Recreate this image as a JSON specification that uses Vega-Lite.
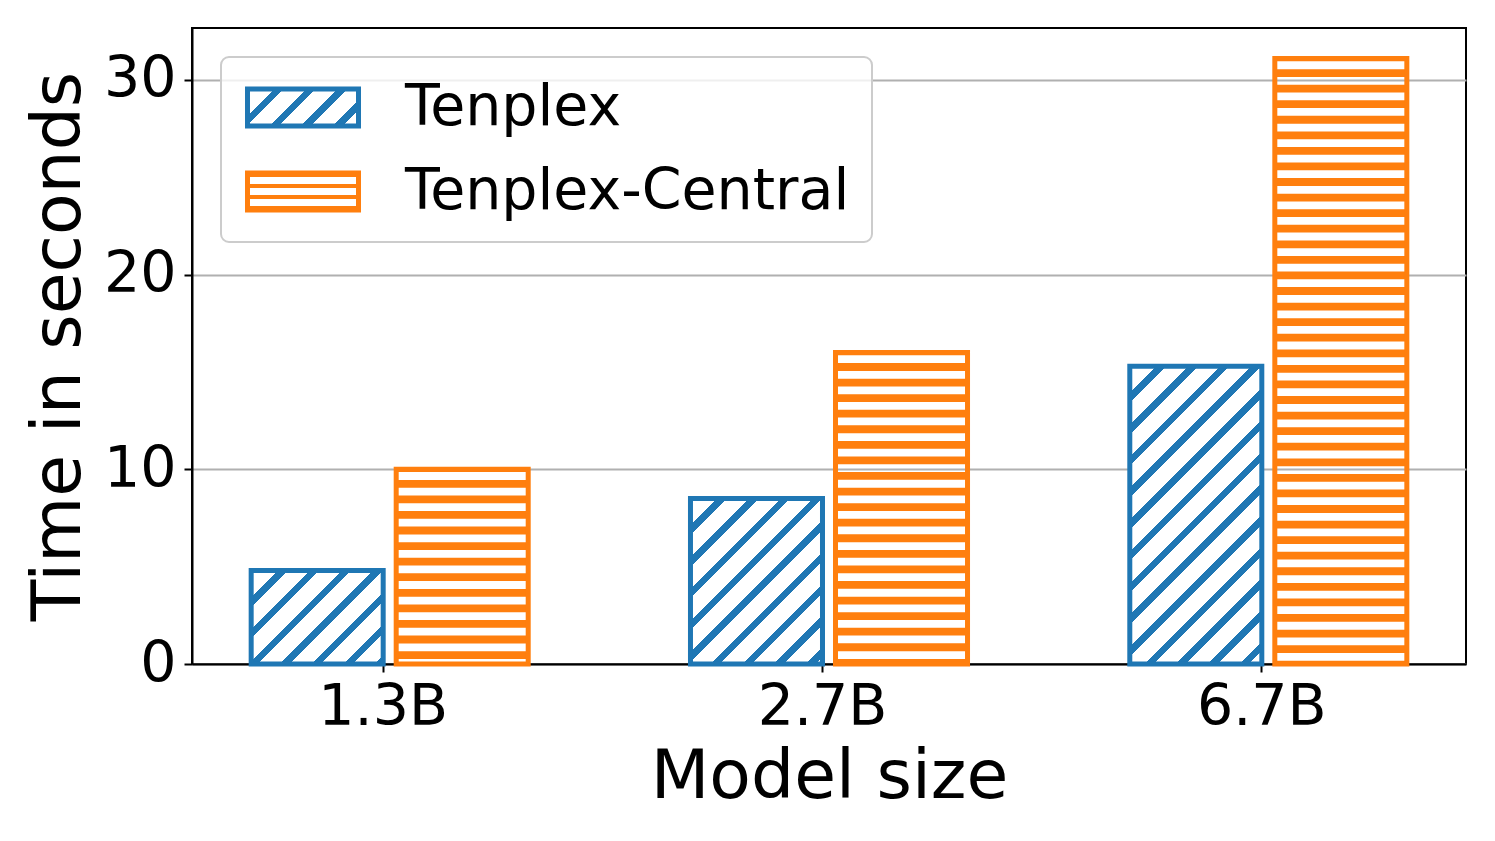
{
  "$schema": "https://vega.github.io/schema/vega-lite/v6.json",
  "width": 1274,
  "height": 636,
  "autosize": {"type": "none"},
  "padding": {"left": 192, "top": 28, "right": 29, "bottom": 177},
  "config": {
    "font": "DejaVu Sans",
    "view": {"stroke": "black", "strokeWidth": 2},
    "legend": {"strokeWidth": 2}
  },
  "data": {
    "values": [
      {"model": "1.3B", "series": "Tenplex", "value": 4.8},
      {"model": "1.3B", "series": "Tenplex-Central", "value": 10.0},
      {"model": "2.7B", "series": "Tenplex", "value": 8.5},
      {"model": "2.7B", "series": "Tenplex-Central", "value": 16.0},
      {"model": "6.7B", "series": "Tenplex", "value": 15.3},
      {"model": "6.7B", "series": "Tenplex-Central", "value": 31.1}
    ]
  },
  "encoding": {
    "x": {
      "field": "model",
      "type": "nominal",
      "sort": ["1.3B", "2.7B", "6.7B"],
      "scale": {"paddingInner": 0.1, "paddingOuter": 0},
      "axis": {
        "title": "Model size",
        "labelAngle": 0,
        "labelFontSize": 57,
        "labelColor": "black",
        "labelPadding": 7,
        "tickOffset": -7,
        "titleFontSize": 68,
        "titleFontWeight": "normal",
        "titleColor": "black",
        "titlePadding": 8,
        "tickSize": 8,
        "tickWidth": 2,
        "tickColor": "black",
        "domainColor": "black",
        "domainWidth": 2,
        "grid": false
      }
    },
    "xOffset": {
      "field": "series",
      "type": "nominal",
      "scale": {"domain": ["Tenplex", "Tenplex-Central"], "paddingInner": 0.0897, "paddingOuter": 0.408}
    }
  },
  "layer": [
    {
      "transform": [{"filter": "datum.series === 'Tenplex-Central'"}],
      "mark": {"type": "rule", "stroke": "#ff7f0e", "strokeWidth": 132, "strokeDash": [7.785, 7.785], "strokeDashOffset": 5, "strokeCap": "butt"},
      "encoding": {
        "y": {"field": "value", "type": "quantitative", "scale": {"domain": [0, 32.67], "nice": false}},
        "y2": {"datum": 0}
      }
    },
    {
      "mark": {"type": "bar", "strokeWidth": 5},
      "encoding": {
        "y": {
          "field": "value",
          "type": "quantitative",
          "scale": {"domain": [0, 32.67], "nice": false},
          "axis": {
            "title": "Time in seconds",
            "values": [0, 10, 20, 30],
            "labelFontSize": 57,
            "labelColor": "black",
            "labelPadding": 8,
            "titleFontSize": 68,
            "titleFontWeight": "normal",
            "titleColor": "black",
            "titlePadding": 10,
            "tickSize": 8,
            "tickWidth": 2,
            "tickColor": "black",
            "domainColor": "black",
            "domainWidth": 2,
            "grid": true,
            "gridColor": "#b0b0b0",
            "gridWidth": 2
          }
        },
        "stroke": {
          "field": "series",
          "type": "nominal",
          "scale": {"domain": ["Tenplex", "Tenplex-Central"], "range": ["#1f77b4", "#ff7f0e"]},
          "legend": {
            "title": null,
            "orient": "top-left",
            "offset": 29,
            "padding": 22,
            "symbolType": "M-1,-0.7708H3.625V0.7708H-1Z",
            "symbolSize": 2304,
            "symbolStrokeWidth": 5,
            "labelFontSize": 57,
            "labelColor": "black",
            "labelOffset": 105,
            "labelLimit": 0,
            "rowPadding": 26,
            "strokeColor": "#cccccc",
            "fillColor": "rgba(255,255,255,0.8)",
            "cornerRadius": 8
          }
        },
        "fill": {
          "value": {
            "expr": "datum.series === 'Tenplex' ? (datum.model === '1.3B' ? {gradient:'linear',x1:0,y1:0,x2:1.1378,y2:0.8054,stops:[{offset:0,color:'#1f77b4'},{offset:0.0211,color:'#1f77b4'},{offset:0.0211,color:'#fff'},{offset:0.1195,color:'#fff'},{offset:0.1195,color:'#1f77b4'},{offset:0.1617,color:'#1f77b4'},{offset:0.1617,color:'#fff'},{offset:0.2602,color:'#fff'},{offset:0.2602,color:'#1f77b4'},{offset:0.3023,color:'#1f77b4'},{offset:0.3023,color:'#fff'},{offset:0.4008,color:'#fff'},{offset:0.4008,color:'#1f77b4'},{offset:0.4429,color:'#1f77b4'},{offset:0.4429,color:'#fff'},{offset:0.5414,color:'#fff'},{offset:0.5414,color:'#1f77b4'},{offset:0.5835,color:'#1f77b4'},{offset:0.5835,color:'#fff'},{offset:0.682,color:'#fff'},{offset:0.682,color:'#1f77b4'},{offset:0.7241,color:'#1f77b4'},{offset:0.7241,color:'#fff'},{offset:0.8226,color:'#fff'},{offset:0.8226,color:'#1f77b4'},{offset:0.8648,color:'#1f77b4'},{offset:0.8648,color:'#fff'},{offset:0.9632,color:'#fff'},{offset:0.9632,color:'#1f77b4'},{offset:1,color:'#1f77b4'}]} : datum.model === '2.7B' ? {gradient:'linear',x1:0,y1:0,x2:0.8764,y2:1.0986,stops:[{offset:0,color:'#1f77b4'},{offset:0.016,color:'#1f77b4'},{offset:0.016,color:'#fff'},{offset:0.0906,color:'#fff'},{offset:0.0906,color:'#1f77b4'},{offset:0.1225,color:'#1f77b4'},{offset:0.1225,color:'#fff'},{offset:0.1972,color:'#fff'},{offset:0.1972,color:'#1f77b4'},{offset:0.2291,color:'#1f77b4'},{offset:0.2291,color:'#fff'},{offset:0.3037,color:'#fff'},{offset:0.3037,color:'#1f77b4'},{offset:0.3357,color:'#1f77b4'},{offset:0.3357,color:'#fff'},{offset:0.4103,color:'#fff'},{offset:0.4103,color:'#1f77b4'},{offset:0.4422,color:'#1f77b4'},{offset:0.4422,color:'#fff'},{offset:0.5169,color:'#fff'},{offset:0.5169,color:'#1f77b4'},{offset:0.5488,color:'#1f77b4'},{offset:0.5488,color:'#fff'},{offset:0.6234,color:'#fff'},{offset:0.6234,color:'#1f77b4'},{offset:0.6554,color:'#1f77b4'},{offset:0.6554,color:'#fff'},{offset:0.73,color:'#fff'},{offset:0.73,color:'#1f77b4'},{offset:0.7619,color:'#1f77b4'},{offset:0.7619,color:'#fff'},{offset:0.8366,color:'#fff'},{offset:0.8366,color:'#1f77b4'},{offset:0.8685,color:'#1f77b4'},{offset:0.8685,color:'#fff'},{offset:0.9431,color:'#fff'},{offset:0.9431,color:'#1f77b4'},{offset:0.9751,color:'#1f77b4'},{offset:0.9751,color:'#fff'},{offset:1,color:'#fff'}]} : {gradient:'linear',x1:0,y1:0,x2:0.5346,y2:1.2063,stops:[{offset:0,color:'#1f77b4'},{offset:0.0111,color:'#1f77b4'},{offset:0.0111,color:'#fff'},{offset:0.0627,color:'#fff'},{offset:0.0627,color:'#1f77b4'},{offset:0.0848,color:'#1f77b4'},{offset:0.0848,color:'#fff'},{offset:0.1364,color:'#fff'},{offset:0.1364,color:'#1f77b4'},{offset:0.1585,color:'#1f77b4'},{offset:0.1585,color:'#fff'},{offset:0.2102,color:'#fff'},{offset:0.2102,color:'#1f77b4'},{offset:0.2323,color:'#1f77b4'},{offset:0.2323,color:'#fff'},{offset:0.2839,color:'#fff'},{offset:0.2839,color:'#1f77b4'},{offset:0.306,color:'#1f77b4'},{offset:0.306,color:'#fff'},{offset:0.3577,color:'#fff'},{offset:0.3577,color:'#1f77b4'},{offset:0.3798,color:'#1f77b4'},{offset:0.3798,color:'#fff'},{offset:0.4314,color:'#fff'},{offset:0.4314,color:'#1f77b4'},{offset:0.4535,color:'#1f77b4'},{offset:0.4535,color:'#fff'},{offset:0.5052,color:'#fff'},{offset:0.5052,color:'#1f77b4'},{offset:0.5273,color:'#1f77b4'},{offset:0.5273,color:'#fff'},{offset:0.5789,color:'#fff'},{offset:0.5789,color:'#1f77b4'},{offset:0.601,color:'#1f77b4'},{offset:0.601,color:'#fff'},{offset:0.6527,color:'#fff'},{offset:0.6527,color:'#1f77b4'},{offset:0.6748,color:'#1f77b4'},{offset:0.6748,color:'#fff'},{offset:0.7264,color:'#fff'},{offset:0.7264,color:'#1f77b4'},{offset:0.7485,color:'#1f77b4'},{offset:0.7485,color:'#fff'},{offset:0.8002,color:'#fff'},{offset:0.8002,color:'#1f77b4'},{offset:0.8223,color:'#1f77b4'},{offset:0.8223,color:'#fff'},{offset:0.8739,color:'#fff'},{offset:0.8739,color:'#1f77b4'},{offset:0.896,color:'#1f77b4'},{offset:0.896,color:'#fff'},{offset:0.9477,color:'#fff'},{offset:0.9477,color:'#1f77b4'},{offset:0.9698,color:'#1f77b4'},{offset:0.9698,color:'#fff'},{offset:1,color:'#fff'}]}) : datum.value === 'Tenplex' ? {gradient:'linear',x1:0,y1:0,x2:1.2,y2:0.4,stops:[{offset:0,color:'#1f77b4'},{offset:0.0321,color:'#1f77b4'},{offset:0.0321,color:'#fff'},{offset:0.1821,color:'#fff'},{offset:0.1821,color:'#1f77b4'},{offset:0.2463,color:'#1f77b4'},{offset:0.2463,color:'#fff'},{offset:0.3963,color:'#fff'},{offset:0.3963,color:'#1f77b4'},{offset:0.4605,color:'#1f77b4'},{offset:0.4605,color:'#fff'},{offset:0.6105,color:'#fff'},{offset:0.6105,color:'#1f77b4'},{offset:0.6747,color:'#1f77b4'},{offset:0.6747,color:'#fff'},{offset:0.8247,color:'#fff'},{offset:0.8247,color:'#1f77b4'},{offset:0.8889,color:'#1f77b4'},{offset:0.8889,color:'#fff'},{offset:1,color:'#fff'}]} : datum.value === 'Tenplex-Central' ? {gradient:'linear',x1:0,y1:0,x2:0,y2:1,stops:[{offset:0,color:'#ff7f0e'},{offset:0.0946,color:'#ff7f0e'},{offset:0.0946,color:'#fff'},{offset:0.2838,color:'#fff'},{offset:0.2838,color:'#ff7f0e'},{offset:0.4054,color:'#ff7f0e'},{offset:0.4054,color:'#fff'},{offset:0.5946,color:'#fff'},{offset:0.5946,color:'#ff7f0e'},{offset:0.7162,color:'#ff7f0e'},{offset:0.7162,color:'#fff'},{offset:0.9054,color:'#fff'},{offset:0.9054,color:'#ff7f0e'},{offset:1,color:'#ff7f0e'}]} : 'transparent'"
          }
        }
      }
    }
  ]
}
